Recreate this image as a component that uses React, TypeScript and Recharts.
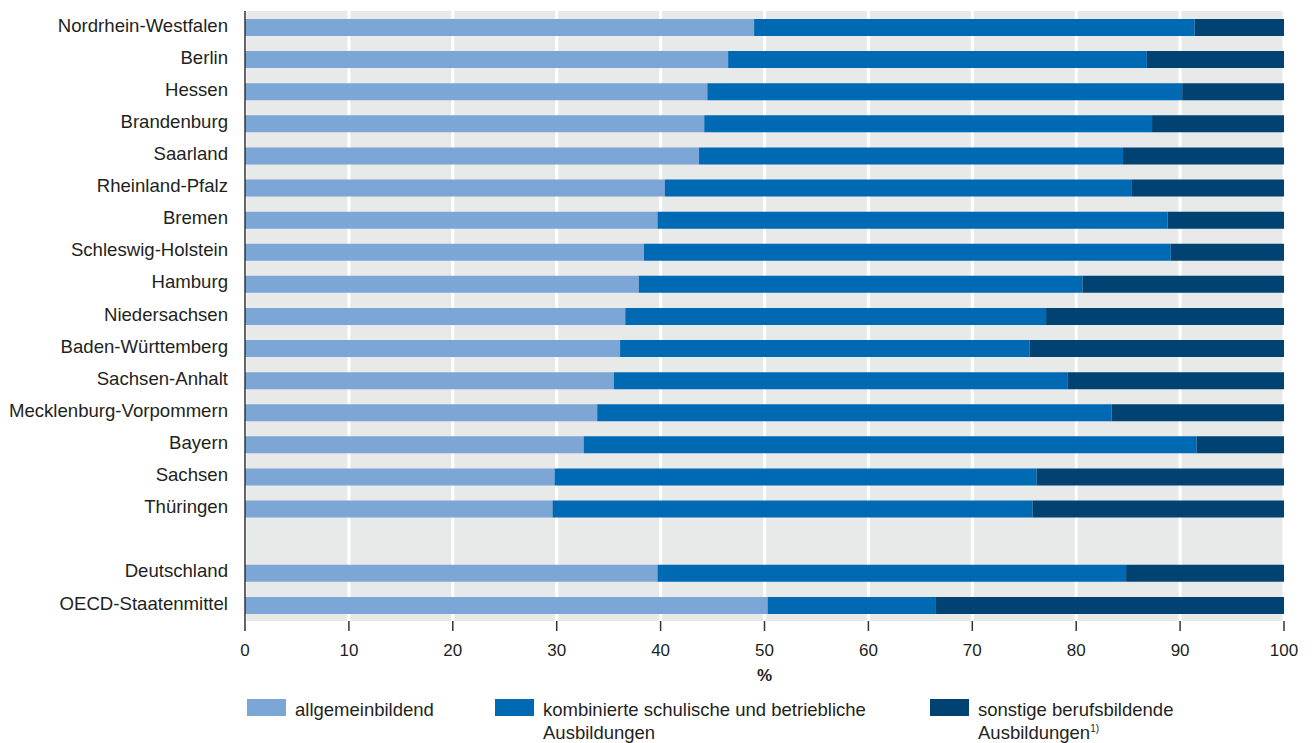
import {
  BarChart, Bar, XAxis, YAxis, CartesianGrid,
} from 'recharts'

const categories = [
  'Nordrhein-Westfalen', 'Berlin', 'Hessen', 'Brandenburg', 'Saarland',
  'Rheinland-Pfalz', 'Bremen', 'Schleswig-Holstein', 'Hamburg', 'Niedersachsen',
  'Baden-Württemberg', 'Sachsen-Anhalt', 'Mecklenburg-Vorpommern', 'Bayern',
  'Sachsen', 'Thüringen', '', 'Deutschland', 'OECD-Staatenmittel',
]

const allgemein = [49.0, 46.5, 44.5, 44.2, 43.7, 40.4, 39.7, 38.4, 37.9, 36.6, 36.1, 35.5, 33.9, 32.6, 29.8, 29.6, null, 39.7, 50.3]
const kombiniert = [42.4, 40.3, 45.7, 43.1, 40.8, 44.9, 49.1, 50.7, 42.7, 40.5, 39.4, 43.7, 49.5, 59.0, 46.4, 46.2, null, 45.1, 16.2]
const sonstige = [8.6, 13.2, 9.8, 12.7, 15.5, 14.7, 11.2, 10.9, 19.4, 22.9, 24.5, 20.8, 16.6, 8.4, 23.8, 24.2, null, 15.2, 33.5]

const xTicks = [0, 10, 20, 30, 40, 50, 60, 70, 80, 90, 100]

const COLORS = {
  allgemein: '#7ba6d5',
  kombiniert: '#0069b3',
  sonstige: '#004373',
}

const FONT = '"Liberation Sans", Arial, sans-serif'
const TEXT = '#231f20'

const data = categories.map((name, i) => ({
  name,
  allgemein: allgemein[i],
  kombiniert: kombiniert[i],
  sonstige: sonstige[i],
}))

function LegendBox() {
  const item = (left: number, color: string, lines: React.ReactNode[]) => (
    <div style={{ position: 'absolute', left, top: 0, display: 'flex' }}>
      <div style={{ width: 39, height: 17, background: color, marginTop: 1 }} />
      <div style={{ marginLeft: 9, fontSize: 18.5, lineHeight: '23px', color: TEXT, fontFamily: FONT }}>
        {lines.map((l, i) => <div key={i}>{l}</div>)}
      </div>
    </div>
  )
  return (
    <div style={{ position: 'absolute', left: 0, top: 698, width: 1316, height: 45 }}>
      {item(247, COLORS.allgemein, ['allgemeinbildend'])}
      {item(495, COLORS.kombiniert, ['kombinierte schulische und betriebliche', 'Ausbildungen'])}
      {item(930, COLORS.sonstige, ['sonstige berufsbildende', <span>Ausbildungen<sup style={{ fontSize: 10, lineHeight: 0 }}>1)</sup></span>])}
    </div>
  )
}

export default function App() {
  return (
    <div style={{ position: 'absolute', left: 0, top: 0, width: 1316, height: 743, background: '#fff' }}>
      <BarChart
        width={1316}
        height={743}
        data={data}
        layout="vertical"
        barSize={17}
        margin={{ top: 11, right: 32, bottom: 62, left: 0 }}
      >
        <CartesianGrid
          horizontal={false}
          fill="#e8e9e9"
          stroke="#ffffff"
          strokeWidth={3}
          verticalValues={xTicks}
        />
        <XAxis
          type="number"
          domain={[0, 100]}
          ticks={xTicks}
          axisLine={false}
          tickLine={{ stroke: '#333', strokeWidth: 1.5 }}
          tickSize={10}
          tickMargin={13}
          tick={{ fill: TEXT, fontSize: 17, fontFamily: FONT }}
          height={60}
          label={{ value: '%', position: 'insideBottom', offset: 0, fill: TEXT, fontSize: 17, fontWeight: 'bold', fontFamily: FONT }}
        />
        <YAxis
          type="category"
          dataKey="name"
          width={245}
          interval={0}
          axisLine={{ stroke: '#333', strokeWidth: 1.5 }}
          tickLine={false}
          tickSize={0}
          tickMargin={17}
          tick={{ fill: TEXT, fontSize: 18.6, fontFamily: FONT, dy: -2 }}
        />
        <Bar dataKey="allgemein" stackId="a" fill={COLORS.allgemein} isAnimationActive={false} />
        <Bar dataKey="kombiniert" stackId="a" fill={COLORS.kombiniert} isAnimationActive={false} />
        <Bar dataKey="sonstige" stackId="a" fill={COLORS.sonstige} isAnimationActive={false} />
      </BarChart>
      <LegendBox />
    </div>
  )
}
